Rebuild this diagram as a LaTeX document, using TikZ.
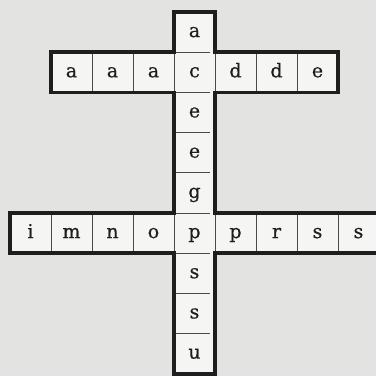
\documentclass[tikz,border=0pt]{standalone}
\usepackage{fontspec}
\newfontfamily\cellfont[FakeBold=0.6]{DejaVu Serif}
\usetikzlibrary{positioning}
\definecolor{ink}{HTML}{1E1E1E}
\definecolor{rule}{HTML}{4A4A4A}
\definecolor{paper}{HTML}{F5F5F3}
\definecolor{scan}{HTML}{E3E3E1}
\tikzset{
  cell/.style={fill=paper,minimum width=41pt,minimum height=40.2pt,inner sep=0pt,outer sep=0pt,text height=12.5pt,text depth=2.6pt,font=\cellfont\fontsize{19}{22}\selectfont,text=ink},
  frame/.style={draw=ink,line width=3.6pt,line join=miter},
  wall/.style={draw=rule,line width=.8pt},
  rung/.style={wall,shorten <=2pt,shorten >=5pt}
}

\begin{document}
\begin{tikzpicture}[node distance=0pt and 0pt]
  \fill[scan] (0,0) rectangle (376pt,376pt);
  \clip (0,0) rectangle (376pt,376pt);
  % down word
  \node[cell] (col1) at (194.5pt,343.9pt) {a};
  \node[cell,below=of col1] (top4) {c};
  \node[cell,below=of top4] (col3) {e};
  \node[cell,below=of col3] (col4) {e};
  \node[cell,below=of col4] (col5) {g};
  \node[cell,below=of col5] (low5) {p};
  \node[cell,below=of low5] (col7) {s};
  \node[cell,below=of col7] (col8) {s};
  \node[cell,below=of col8] (col9) {u};
  % upper word
  \node[cell,left=of top4] (top3) {a};
  \node[cell,left=of top3] (top2) {a};
  \node[cell,left=of top2] (top1) {a};
  \node[cell,right=of top4] (top5) {d};
  \node[cell,right=of top5] (top6) {d};
  \node[cell,right=of top6] (top7) {e};
  % lower word
  \node[cell,left=of low5] (low4) {o};
  \node[cell,left=of low4] (low3) {n};
  \node[cell,left=of low3] (low2) {m};
  \node[cell,left=of low2] (low1) {i};
  \node[cell,right=of low5] (low6) {p};
  \node[cell,right=of low6] (low7) {r};
  \node[cell,right=of low7] (low8) {s};
  \node[cell,right=of low8] (low9) {s};
  % thin walls
  \draw[wall] (top1.north east) -- (top1.south east) (top2.north east) -- (top2.south east)
    (top3.north east) -- (top3.south east) (top4.north east) -- (top4.south east)
    (top5.north east) -- (top5.south east) (top6.north east) -- (top6.south east);
  \draw[wall] (low1.north east) -- (low1.south east) (low2.north east) -- (low2.south east)
    (low3.north east) -- (low3.south east) (low4.north east) -- (low4.south east)
    (low5.north east) -- (low5.south east) (low6.north east) -- (low6.south east)
    (low7.north east) -- (low7.south east) (low8.north east) -- (low8.south east);
  \draw[rung] (col1.south west) -- (col1.south east);
  \draw[rung] (top4.south west) -- (top4.south east);
  \draw[rung] (col3.south west) -- (col3.south east);
  \draw[rung] (col4.south west) -- (col4.south east);
  \draw[rung] (col5.south west) -- (col5.south east);
  \draw[rung] (low5.south west) -- (low5.south east);
  \draw[rung] (col7.south west) -- (col7.south east);
  \draw[rung] (col8.south west) -- (col8.south east);
  % outline of the cross
  \draw[frame] (col1.north west) -- (col1.north east) -- (col1.south east) -- (top7.north east)
    -- (top7.south east) -- (top5.south west) -- (low6.north west) -- (low9.north east)
    -- (low9.south east) -- (col7.north east) -- (col9.south east) -- (col9.south west)
    -- (col7.north west) -- (low1.south west) -- (low1.north west) -- (low5.north west)
    -- (top4.south west) -- (top1.south west) -- (top1.north west) -- (col1.south west) -- cycle;
\end{tikzpicture}
\end{document}
